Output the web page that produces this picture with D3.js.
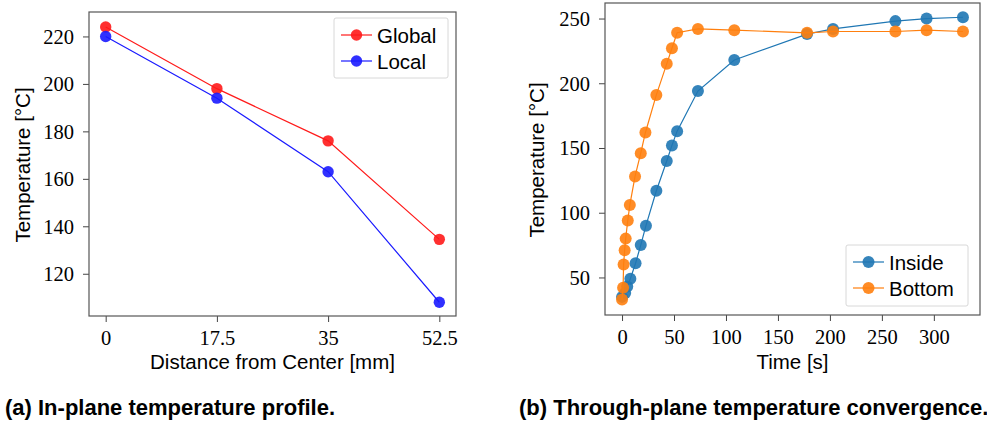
<!DOCTYPE html>
<html>
<head>
<script src="https://cdn.jsdelivr.net/npm/d3@7"></script>
<style>
  body { margin: 0; background: #fff; }
  .tick text { font-family: "Liberation Serif", "DejaVu Serif", serif; font-size: 20.5px; fill: #000; }
  .lab { font-family: "Liberation Sans", Arial, sans-serif; font-size: 20.5px; fill: #000; }
  .cap { font-family: "Liberation Sans", Arial, sans-serif; font-size: 22px; font-weight: bold; fill: #000; }
</style>
</head>
<body>
<script>
// panel (a)
var distance = [0, 17.5, 35, 52.5];
var globalTemp = [224, 198, 176, 134.5];
var localTemp = [220, 194, 163, 108];
var distTicks = [0, 17.5, 35, 52.5];
var tempTicksA = [120, 140, 160, 180, 200, 220];

// panel (b)
var insideTime = [0, 3, 5, 8, 13, 18, 23, 33, 43, 48, 53, 73, 108, 178, 203, 263, 293, 328];
var insideTemp = [35, 38, 43, 49, 61, 75, 90, 117, 140, 152, 163, 194, 218, 238, 242, 248, 250, 251];
var bottomTime = [0, 1, 1.5, 2.5, 3.5, 5.5, 7.5, 12.5, 18, 22.5, 33, 43, 48, 53, 73, 108, 178, 203, 263, 293, 328];
var bottomTemp = [33, 42, 60, 71, 80, 94, 106, 128, 146, 162, 191, 215, 227, 239, 242, 241, 239, 240, 240, 241, 240];
var timeTicks = [0, 50, 100, 150, 200, 250, 300];
var tempTicksB = [50, 100, 150, 200, 250];

var width = 987, height = 422;

var svg = d3.select("body").append("svg")
  .attr("width", width)
  .attr("height", height);

function zip(xs, ys) {
  return xs.map(function(x, i) { return [x, ys[i]]; });
}

function drawPanel(opt) {
  var g = svg.append("g");
  var x = d3.scaleLinear().domain(opt.xDomain).range([opt.left, opt.right]);
  var y = d3.scaleLinear().domain(opt.yDomain).range([opt.bottom, opt.top]);

  g.append("g")
    .attr("transform", "translate(0," + opt.bottom + ")")
    .call(d3.axisBottom(x).tickValues(opt.xTicks).tickSize(6).tickPadding(6)
      .tickFormat(function(d) { return String(d); }))
    .call(function(a) {
      a.select(".domain").remove();
      a.selectAll("line").attr("stroke", "#444");
      a.selectAll("text").attr("dy", "0.85em");
    });

  g.append("g")
    .attr("transform", "translate(" + opt.left + ",0)")
    .call(d3.axisLeft(y).tickValues(opt.yTicks).tickSize(6).tickPadding(9))
    .call(function(a) {
      a.select(".domain").remove();
      a.selectAll("line").attr("stroke", "#444");
      a.selectAll("text").attr("dy", "0.33em");
    });

  var line = d3.line().x(function(d) { return x(d[0]); }).y(function(d) { return y(d[1]); });

  opt.series.forEach(function(s) {
    var pts = zip(s.xs, s.ys);
    g.append("path").datum(pts)
      .attr("d", line)
      .attr("fill", "none")
      .attr("stroke", s.color)
      .attr("stroke-width", 1.2);
    g.append("g").selectAll("circle")
      .data(pts)
      .enter().append("circle")
      .attr("cx", function(d) { return x(d[0]); })
      .attr("cy", function(d) { return y(d[1]); })
      .attr("r", opt.r)
      .attr("fill", s.color)
      .attr("fill-opacity", 0.9);
  });

  g.append("rect")
    .attr("x", opt.left).attr("y", opt.top)
    .attr("width", opt.right - opt.left).attr("height", opt.bottom - opt.top)
    .attr("fill", "none").attr("stroke", "#555").attr("stroke-width", 1.2);

  // legend
  var lg = opt.legend;
  g.append("rect")
    .attr("x", lg.x).attr("y", lg.y).attr("width", lg.w).attr("height", lg.h)
    .attr("rx", 2)
    .attr("fill", "#fff").attr("fill-opacity", 0.8)
    .attr("stroke", "#d8d8d8");
  opt.series.forEach(function(s, i) {
    var cy = lg.y + 17 + i * 26;
    g.append("line")
      .attr("x1", lg.x + 7).attr("x2", lg.x + 38)
      .attr("y1", cy).attr("y2", cy)
      .attr("stroke", s.color).attr("stroke-width", 1.2);
    g.append("circle")
      .attr("cx", lg.x + 22.5).attr("cy", cy).attr("r", opt.r)
      .attr("fill", s.color).attr("fill-opacity", 0.9);
    g.append("text").attr("class", "lab")
      .attr("x", lg.x + 43).attr("y", cy + 7.5)
      .text(s.name);
  });

  g.append("text").attr("class", "lab")
    .attr("text-anchor", "middle")
    .attr("x", (opt.left + opt.right) / 2 + opt.xLabelShift).attr("y", 369)
    .text(opt.xLabel);

  g.append("text").attr("class", "lab")
    .attr("text-anchor", "middle")
    .attr("transform", "translate(" + opt.yLabelX + "," + opt.yLabelY + ") rotate(-90)")
    .text("Temperature [°C]");

  g.append("text").attr("class", "cap")
    .attr("x", opt.capX).attr("y", 415)
    .text(opt.caption);
}

drawPanel({
  left: 89, right: 456, top: 12, bottom: 316,
  xDomain: [-2.625, 55.125], yDomain: [102.2, 230.3],
  xTicks: distTicks, yTicks: tempTicksA, r: 5.7,
  series: [
    { name: "Global", xs: distance, ys: globalTemp, color: "#ff1a1a" },
    { name: "Local", xs: distance, ys: localTemp, color: "#1a1aff" }
  ],
  legend: { x: 334, y: 18, w: 114, h: 60 },
  xLabel: "Distance from Center [mm]", xLabelShift: 0,
  yLabelX: 30, yLabelY: 165,
  caption: "(a) In-plane temperature profile.", capX: 5
});

drawPanel({
  left: 605, right: 980, top: 3, bottom: 315,
  xDomain: [-16.4, 344.4], yDomain: [21, 262],
  xTicks: timeTicks, yTicks: tempTicksB, r: 6,
  series: [
    { name: "Inside", xs: insideTime, ys: insideTemp, color: "#1f77b4" },
    { name: "Bottom", xs: bottomTime, ys: bottomTemp, color: "#ff7f0e" }
  ],
  legend: { x: 846, y: 245, w: 122, h: 61 },
  xLabel: "Time [s]", xLabelShift: 0,
  yLabelX: 544, yLabelY: 160,
  caption: "(b) Through-plane temperature convergence.", capX: 519
});
</script>
</body>
</html>
